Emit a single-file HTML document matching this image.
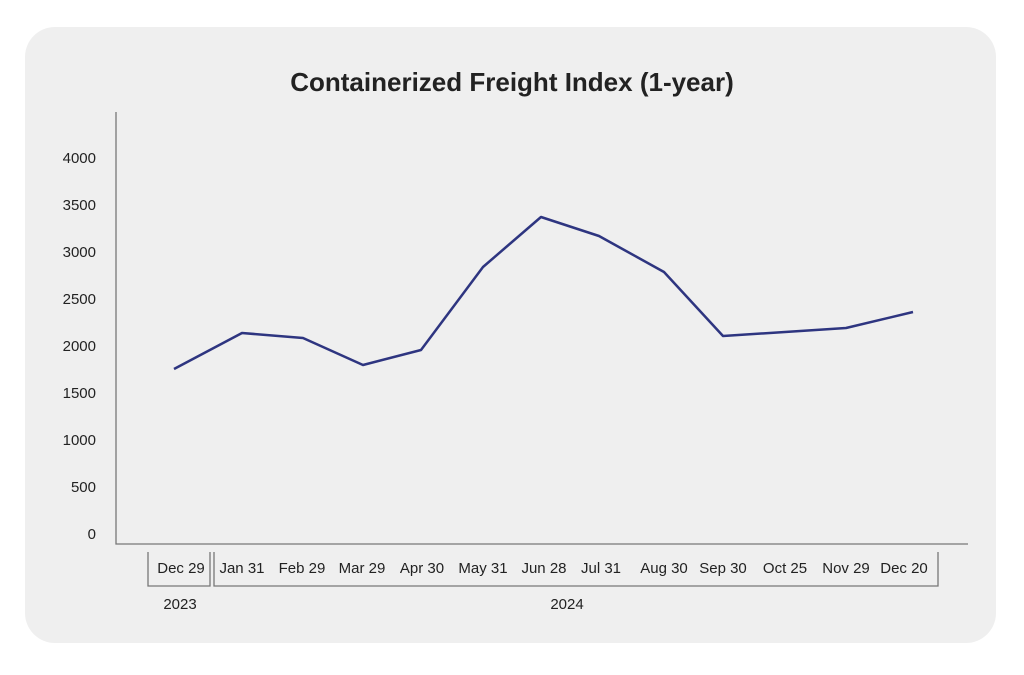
<!DOCTYPE html>
<html><head><style>
body{margin:0;background:#fff;width:1024px;height:670px;overflow:hidden}
</style></head><body>
<svg width="1024" height="670" xmlns="http://www.w3.org/2000/svg" font-family="Liberation Sans, sans-serif">
<rect x="25" y="27" width="971" height="616" rx="30" fill="#efefef"/>
<text x="512" y="91" text-anchor="middle" font-size="26" font-weight="bold" fill="#222">Containerized Freight Index (1-year)</text>
<g stroke="#777" stroke-width="1.3" fill="none">
<path d="M116 112V544H968"/>
<path d="M148 552V586H210V552M214 552V586H938V552"/>
</g>
<g font-size="15" fill="#222" text-anchor="end">
<text x="96" y="539">0</text><text x="96" y="492">500</text><text x="96" y="445">1000</text><text x="96" y="398">1500</text><text x="96" y="351">2000</text><text x="96" y="304">2500</text><text x="96" y="257">3000</text><text x="96" y="210">3500</text><text x="96" y="163">4000</text>
</g>
<g font-size="15" fill="#222" text-anchor="middle">
<text x="181" y="573">Dec 29</text><text x="242" y="573">Jan 31</text><text x="302" y="573">Feb 29</text><text x="362" y="573">Mar 29</text><text x="422" y="573">Apr 30</text><text x="483" y="573">May 31</text><text x="544" y="573">Jun 28</text><text x="601" y="573">Jul 31</text><text x="664" y="573">Aug 30</text><text x="723" y="573">Sep 30</text><text x="785" y="573">Oct 25</text><text x="846" y="573">Nov 29</text><text x="904" y="573">Dec 20</text>
<text x="180" y="609">2023</text><text x="567" y="609">2024</text>
</g>
<polyline fill="none" stroke="#2e3580" stroke-width="2.5" stroke-linejoin="round" points="174,369 242,333 303,338 363,365 421,350 483,267 541,217 599,236 664,272 723,336 785,332 846,328 913,312"/>
</svg>
</body></html>
